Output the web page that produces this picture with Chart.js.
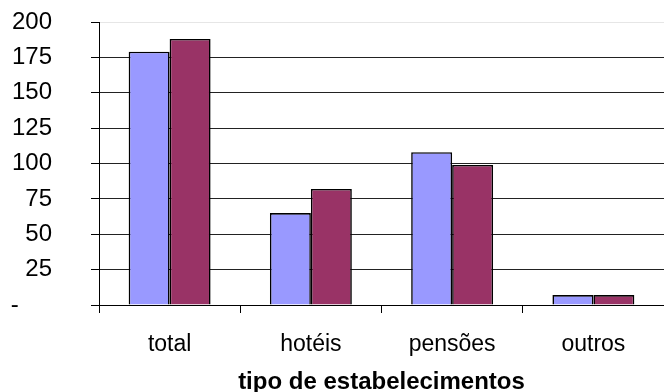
<!DOCTYPE html>
<html>
<head>
<meta charset="utf-8">
<script src="https://cdn.jsdelivr.net/npm/chart.js@4"></script>
<style>
  html, body { margin: 0; padding: 0; background: #fff; }
  #wrap { width: 664px; height: 392px; }
</style>
</head>
<body>
<div id="wrap"><canvas id="barChart"></canvas></div>
<script>
const categories = ['total', 'hotéis', 'pensões', 'outros'];
const seriesA = [179, 65, 108, 7];
const seriesB = [188, 82, 99, 7];
const yTicks = [0, 25, 50, 75, 100, 125, 150, 175, 200];

const barCtx = document.getElementById('barChart').getContext('2d');
const barChart = new Chart(barCtx, {
    type: 'bar',
    data: {
        labels: categories,
        datasets: [{
            data: seriesA,
            backgroundColor: '#9999FF',
            borderColor: '#000000',
            borderWidth: 1.6
        }, {
            data: seriesB,
            backgroundColor: '#993366',
            borderColor: '#000000',
            borderWidth: 1.6
        }]
    },
    options: {
        responsive: true,
        maintainAspectRatio: false,
        animation: false,
        layout: { padding: { top: 22, right: 0, left: 0, bottom: 0 } },
        datasets: { bar: { categoryPercentage: 0.58, barPercentage: 1 } },
        plugins: {
            legend: { display: false },
            title: { display: false },
            tooltip: { enabled: false }
        },
        scales: {
            x: {
                grid: {
                    offset: true,
                    drawOnChartArea: false,
                    tickLength: 8,
                    tickColor: '#000'
                },
                border: { color: '#000', width: 1 },
                ticks: {
                    color: '#000',
                    padding: 18,
                    font: { family: 'Liberation Sans', size: 23 }
                },
                title: {
                    display: true,
                    text: 'tipo de estabelecimentos',
                    color: '#000',
                    padding: { top: 0, bottom: 0 },
                    font: { family: 'Liberation Sans', size: 24, weight: 'bold', lineHeight: 0.83 }
                },
                afterFit: (scale) => { scale.height = 87; scale.paddingTop = 0; scale.paddingBottom = 0; }
            },
            y: {
                min: 0,
                max: 200,
                afterBuildTicks: (scale) => { scale.ticks = yTicks.map(v => ({ value: v })); },
                grid: {
                    color: (c) => c.tick && c.tick.value === 200 ? '#e6e6e6' : '#222',
                    tickLength: 8,
                    tickColor: '#000'
                },
                border: { color: '#000', width: 1 },
                ticks: {
                    color: '#000',
                    padding: 39,
                    font: { family: 'Liberation Sans', size: 24 },
                    callback: (v) => v === 0 ? '-     ' : v
                },
                afterFit: (scale) => { scale.width = 99; scale.paddingTop = 0; scale.paddingBottom = 0; }
            }
        }
    }
});
</script>
</body>
</html>
